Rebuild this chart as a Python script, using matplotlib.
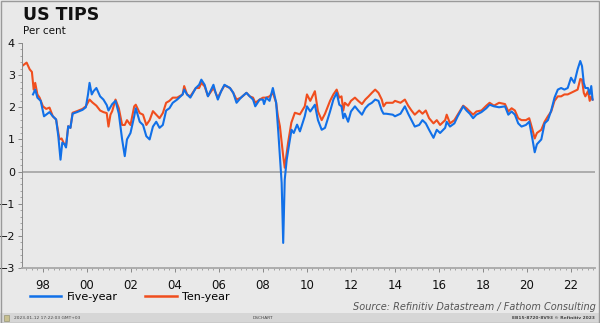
import numpy as np
import matplotlib
matplotlib.use("Agg")
import matplotlib.pyplot as plt
from matplotlib.patches import Rectangle
from matplotlib.ticker import MultipleLocator, FixedLocator

# ten-year TIPS yield, per cent (decimal year, value)
ten_dates = [1997.05, 1997.26, 1997.40, 1997.50, 1997.58, 1997.65, 1997.75, 1997.85,
             1998.00, 1998.15, 1998.30, 1998.45, 1998.60, 1998.75, 1998.85, 1998.95,
             1999.05, 1999.15, 1999.25, 1999.35, 1999.55, 1999.80, 1999.95, 2000.12,
             2000.25, 2000.43, 2000.60, 2000.75, 2000.90, 2000.98, 2001.07, 2001.15,
             2001.30, 2001.45, 2001.60, 2001.72, 2001.82, 2001.98, 2002.15, 2002.22,
             2002.40, 2002.55, 2002.70, 2002.85, 2003.00, 2003.15, 2003.30, 2003.45,
             2003.60, 2003.75, 2003.90, 2004.10, 2004.35, 2004.42, 2004.55, 2004.70,
             2004.95, 2005.10, 2005.20, 2005.35, 2005.50, 2005.75, 2005.85, 2005.95,
             2006.10, 2006.25, 2006.50, 2006.65, 2006.80, 2007.00, 2007.25, 2007.40,
             2007.55, 2007.65, 2007.85, 2008.00, 2008.15, 2008.30, 2008.45, 2008.60,
             2008.68, 2008.77, 2008.92, 2008.99, 2009.14, 2009.29, 2009.45, 2009.68,
             2009.90, 2010.00, 2010.15, 2010.36, 2010.50, 2010.67, 2010.82, 2011.05,
             2011.20, 2011.35, 2011.47, 2011.57, 2011.65, 2011.72, 2011.87, 2012.00,
             2012.18, 2012.33, 2012.50, 2012.65, 2012.80, 2012.95, 2013.10, 2013.25,
             2013.40, 2013.48, 2013.60, 2013.90, 2014.00, 2014.25, 2014.45, 2014.60,
             2014.75, 2014.90, 2015.10, 2015.25, 2015.40, 2015.55, 2015.75, 2015.90,
             2016.05, 2016.28, 2016.35, 2016.50, 2016.70, 2016.85, 2017.10, 2017.25,
             2017.40, 2017.55, 2017.70, 2017.93, 2018.15, 2018.30, 2018.50, 2018.73,
             2019.00, 2019.15, 2019.30, 2019.45, 2019.60, 2019.75, 2019.95, 2020.10,
             2020.25, 2020.35, 2020.45, 2020.65, 2020.80, 2020.95, 2021.10, 2021.25,
             2021.40, 2021.55, 2021.70, 2021.85, 2022.00, 2022.15, 2022.30, 2022.42,
             2022.50, 2022.58, 2022.65, 2022.77, 2022.85, 2022.92, 2022.98]
ten_vals = [3.28, 3.39, 3.18, 3.10, 2.55, 2.76, 2.40, 2.30,
            2.03, 1.95, 1.99, 1.72, 1.62, 1.00, 1.03, 0.88,
            0.80, 1.41, 1.36, 1.83, 1.88, 1.95, 2.03, 2.24,
            2.15, 2.05, 1.90, 1.85, 1.82, 1.40, 1.77, 1.88,
            2.24, 1.97, 1.45, 1.45, 1.60, 1.45, 2.03, 2.08,
            1.82, 1.77, 1.45, 1.60, 1.88, 1.77, 1.66, 1.82,
            2.14, 2.20, 2.30, 2.30, 2.40, 2.66, 2.40, 2.34,
            2.60, 2.60, 2.76, 2.65, 2.35, 2.60, 2.45, 2.30,
            2.50, 2.68, 2.60, 2.45, 2.24, 2.30, 2.45, 2.34,
            2.30, 2.14, 2.24, 2.30, 2.30, 2.34, 2.45, 2.14,
            1.72, 1.41, 0.48, 0.12, 0.89, 1.52, 1.83, 1.78,
            2.03, 2.40, 2.20, 2.50, 1.87, 1.60, 1.80, 2.20,
            2.40, 2.55, 2.30, 2.34, 1.90, 2.14, 2.05, 2.20,
            2.30, 2.20, 2.10, 2.24, 2.34, 2.45, 2.55, 2.45,
            2.24, 2.03, 2.14, 2.14, 2.20, 2.14, 2.24, 2.05,
            1.90, 1.77, 1.90, 1.80, 1.90, 1.66, 1.50, 1.60,
            1.45, 1.60, 1.77, 1.50, 1.60, 1.77, 2.05, 1.97,
            1.87, 1.77, 1.87, 1.90, 2.05, 2.14, 2.05, 2.14,
            2.10, 1.87, 1.97, 1.90, 1.66, 1.60, 1.60, 1.66,
            1.30, 1.03, 1.20, 1.30, 1.55, 1.72, 1.87, 2.20,
            2.34, 2.34, 2.40, 2.40, 2.45, 2.50, 2.55, 2.88,
            2.86, 2.45, 2.34, 2.50, 2.20, 2.34, 2.24]

# five-year TIPS yield, per cent
five_dates = [1997.55, 1997.65, 1997.75, 1997.90, 1998.05, 1998.20, 1998.30, 1998.45,
              1998.60, 1998.70, 1998.80, 1998.88, 1998.98, 1999.05, 1999.15, 1999.25,
              1999.35, 1999.55, 1999.80, 1999.95, 2000.05, 2000.12, 2000.22, 2000.30,
              2000.43, 2000.60, 2000.75, 2000.90, 2000.98, 2001.15, 2001.30, 2001.45,
              2001.60, 2001.72, 2001.82, 2001.98, 2002.15, 2002.22, 2002.40, 2002.55,
              2002.70, 2002.85, 2003.00, 2003.15, 2003.30, 2003.45, 2003.60, 2003.75,
              2003.90, 2004.10, 2004.35, 2004.42, 2004.55, 2004.70, 2004.95, 2005.10,
              2005.20, 2005.35, 2005.50, 2005.75, 2005.85, 2005.95, 2006.10, 2006.25,
              2006.50, 2006.65, 2006.80, 2007.00, 2007.25, 2007.40, 2007.55, 2007.65,
              2007.85, 2008.00, 2008.05, 2008.15, 2008.30, 2008.45, 2008.60, 2008.70,
              2008.85, 2008.92, 2008.99, 2009.08, 2009.20, 2009.30, 2009.40, 2009.55,
              2009.68, 2009.90, 2010.00, 2010.15, 2010.36, 2010.50, 2010.67, 2010.82,
              2011.05, 2011.20, 2011.35, 2011.47, 2011.57, 2011.65, 2011.72, 2011.87,
              2012.00, 2012.18, 2012.33, 2012.50, 2012.65, 2012.80, 2012.95, 2013.10,
              2013.25, 2013.40, 2013.48, 2013.60, 2013.90, 2014.00, 2014.25, 2014.45,
              2014.60, 2014.75, 2014.90, 2015.10, 2015.25, 2015.40, 2015.55, 2015.75,
              2015.90, 2016.05, 2016.28, 2016.35, 2016.50, 2016.70, 2016.85, 2017.10,
              2017.25, 2017.40, 2017.55, 2017.70, 2017.93, 2018.15, 2018.30, 2018.50,
              2018.73, 2019.00, 2019.15, 2019.30, 2019.45, 2019.60, 2019.75, 2019.95,
              2020.10, 2020.25, 2020.35, 2020.45, 2020.65, 2020.80, 2020.95, 2021.10,
              2021.25, 2021.40, 2021.55, 2021.70, 2021.85, 2022.00, 2022.15, 2022.30,
              2022.42, 2022.50, 2022.58, 2022.65, 2022.77, 2022.85, 2022.92, 2022.98]
five_vals = [2.40, 2.55, 2.30, 2.20, 1.72, 1.80, 1.85, 1.72,
             1.62, 1.10, 0.37, 0.90, 0.85, 0.75, 1.41, 1.36,
             1.80, 1.85, 1.92, 2.00, 2.40, 2.76, 2.40, 2.50,
             2.60, 2.34, 2.24, 2.07, 1.90, 2.10, 2.20, 1.80,
             1.00, 0.48, 1.00, 1.20, 1.72, 1.97, 1.55, 1.45,
             1.10, 1.00, 1.40, 1.55, 1.36, 1.45, 1.90, 1.97,
             2.14, 2.24, 2.40, 2.55, 2.40, 2.30, 2.60, 2.70,
             2.86, 2.70, 2.34, 2.70, 2.45, 2.24, 2.50, 2.70,
             2.60, 2.45, 2.14, 2.30, 2.45, 2.34, 2.24, 2.03,
             2.24, 2.24, 2.10, 2.30, 2.20, 2.60, 2.14, 1.20,
             -0.35, -2.22, -0.25, 0.37, 0.89, 1.30, 1.20, 1.46,
             1.25, 1.72, 2.03, 1.87, 2.08, 1.60, 1.30, 1.36,
             1.87, 2.24, 2.45, 2.08, 2.03, 1.66, 1.80, 1.55,
             1.87, 2.03, 1.90, 1.77, 1.97, 2.08, 2.14, 2.24,
             2.20, 1.90, 1.80, 1.80, 1.77, 1.72, 1.80, 2.03,
             1.80, 1.60, 1.40, 1.45, 1.60, 1.50, 1.30, 1.05,
             1.30, 1.20, 1.36, 1.55, 1.40, 1.50, 1.72, 2.03,
             1.90, 1.80, 1.66, 1.77, 1.85, 1.97, 2.08, 2.03,
             2.00, 2.03, 1.77, 1.87, 1.77, 1.50, 1.40, 1.45,
             1.55, 1.00, 0.60, 0.85, 1.00, 1.50, 1.60, 1.90,
             2.30, 2.55, 2.60, 2.55, 2.60, 2.92, 2.76, 3.18,
             3.44, 3.28, 2.76, 2.60, 2.60, 2.40, 2.66, 2.24]

year_ticks = list(range(1998, 2023, 2))
year_labels = ["%02d" % (y % 100) for y in year_ticks]

BG = "#e9e9e9"
BLUE = "#1170e8"
RED = "#f04e1e"

fig = plt.figure(figsize=(6.0, 3.23), dpi=100, facecolor=BG)
ax = fig.add_axes([22 / 600, 1 - 268 / 323, 573 / 600, 225 / 323])
ax.set_facecolor(BG)

ax.axhline(0, color="#a8a8a8", lw=1.3, zorder=1)
ax.plot(five_dates, five_vals, color=BLUE, lw=1.5, label="Five-year", zorder=3)
ax.plot(ten_dates, ten_vals, color=RED, lw=1.5, label="Ten-year", zorder=2)

ax.set_xlim(1997.05, 2023.09)
ax.set_ylim(-3, 4)

for s in ["top", "right"]:
    ax.spines[s].set_visible(False)
ax.spines["left"].set_color("#888888")
ax.spines["left"].set_linewidth(0.7)
ax.spines["bottom"].set_color("#a8a8a8")
ax.spines["bottom"].set_linewidth(1.3)

ax.yaxis.set_major_locator(MultipleLocator(1))
ax.yaxis.set_minor_locator(MultipleLocator(0.2))
ax.xaxis.set_major_locator(FixedLocator(year_ticks))
ax.xaxis.set_minor_locator(MultipleLocator(0.25))
ax.set_xticklabels(year_labels)
ax.tick_params(axis="y", which="major", length=3, width=0.7, color="#888888",
               labelsize=8, pad=2, labelcolor="#111111")
ax.tick_params(axis="y", which="minor", length=1.5, width=0.5, color="#888888")
ax.tick_params(axis="x", which="major", length=3, width=0.7, color="#888888",
               labelsize=8.5, pad=5, labelcolor="#111111")
ax.tick_params(axis="x", which="minor", length=1.5, width=0.5, color="#888888")

fig.text(23 / 600, 1 - 15 / 323, "US TIPS", fontsize=12.5, fontweight="bold",
         va="center", ha="left", color="#111111")
fig.text(23 / 600, 1 - 31 / 323, "Per cent", fontsize=7.5, va="center",
         ha="left", color="#111111")

leg = fig.legend(loc="center left", bbox_to_anchor=(20 / 600, 1 - 297 / 323),
                 ncol=2, frameon=False, fontsize=8, handlelength=2.8,
                 columnspacing=2.5, handletextpad=0.5)
for line in leg.get_lines():
    line.set_linewidth(1.8)

fig.text(596 / 600, 1 - 307 / 323, "Source: Refinitiv Datastream / Fathom Consulting",
         fontsize=7, style="italic", color="#555555", ha="right", va="center")

# bottom status strip
fig.patches.append(Rectangle((0, 0), 1, 10 / 323, transform=fig.transFigure,
                             facecolor="#d6d6d6", edgecolor="none", zorder=5))
fig.text(14 / 600, 5 / 323, "2023-01-12 17:22:03 GMT+03", fontsize=3.2,
         color="#444444", va="center", ha="left", zorder=6)
fig.text(263 / 600, 5 / 323, "DSCHART", fontsize=3.2, color="#444444",
         va="center", ha="center", zorder=6)
fig.text(595 / 600, 5 / 323, "EB15-8720-8V93 \u00a9 Refinitiv 2023", fontsize=3.2,
         color="#444444", va="center", ha="right", zorder=6, fontweight="bold")
fig.patches.append(Rectangle((4 / 600, 2 / 323), 5 / 600, 6 / 323, transform=fig.transFigure,
                             facecolor="#c8c090", edgecolor="#888866", lw=0.4, zorder=6))
fig.patches.append(Rectangle((0.5 / 600, 0.5 / 323), 598.5 / 600, 321.5 / 323,
                             transform=fig.transFigure, facecolor="none",
                             edgecolor="#9a9a9a", lw=1.0, zorder=7))

fig.savefig("out.png", dpi=100, facecolor=BG)
